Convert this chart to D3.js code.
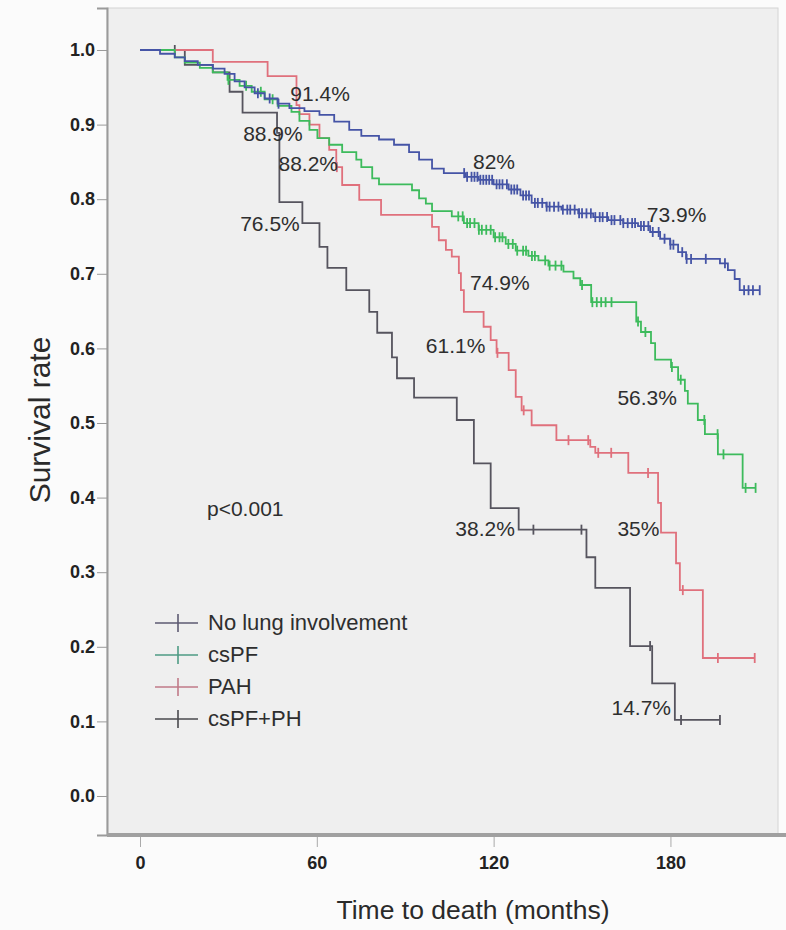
<!DOCTYPE html>
<html><head><meta charset="utf-8">
<script src="https://cdn.jsdelivr.net/npm/d3@7"></script>
<style>body{margin:0;background:#fbfbfb;}svg{display:block;}</style>
</head><body>
<svg id="chart" width="786" height="930"></svg>
<script>
// ---------------- DATA ----------------
const groupNames = ["No lung involvement", "csPF", "PAH", "csPF+PH"];
const xTickValues = [0, 60, 120, 180];
const yTickValues = [0, 0.1, 0.2, 0.3, 0.4, 0.5, 0.6, 0.7, 0.8, 0.9, 1.0];
const xTitle = "Time to death (months)";
const yTitle = "Survival rate";
const pValueText = "p<0.001";

// step drops: [time (months), survival after drop]
const noLungSteps = [[0,1.0],[6.8,0.995],[11.8,0.99],[15.2,0.985],[19.6,0.98],[24.7,0.975],[28.7,0.968],[32.1,0.958],[35.5,0.95],[38.9,0.942],[42.3,0.935],[46.7,0.928],[50.7,0.922],[55.8,0.918],[60.9,0.913],[65.9,0.904],[71.0,0.893],[75.1,0.885],[81.1,0.88],[86.2,0.873],[91.3,0.863],[94.7,0.853],[99.1,0.841],[103.1,0.835],[110.5,0.83],[114.9,0.826],[120.0,0.82],[125.1,0.813],[129.1,0.805],[132.9,0.795],[137.9,0.79],[143.0,0.786],[148.7,0.781],[153.8,0.776],[158.9,0.772],[164.0,0.768],[169.0,0.764],[173.1,0.756],[176.5,0.747],[179.9,0.739],[182.6,0.729],[185.3,0.72],[196.8,0.714],[199.5,0.705],[201.8,0.693],[203.5,0.678]];
const noLungEnd = 210.3;
const noLungCensor = [40,44,47,110,111,112.5,113.5,114.5,115.5,116.5,117.5,118.5,119.5,121,122,123,124.5,126,127,128,130,131,132,134,135,136.5,138,139,140.5,142,143.5,145,146,147.5,149,150,151.5,153,154.5,156,157,158.5,160,161,163,164,165.5,167,168,170,171,172.5,174,176,178,180,181,184,185.5,187,192,198.5,205,206.5,208,210.3];

const csPFSteps = [[0,1.0],[11.8,0.99],[15.2,0.983],[20.3,0.976],[24.7,0.97],[29.7,0.96],[33.8,0.952],[37.9,0.944],[42.3,0.934],[46.7,0.925],[51.4,0.917],[54.1,0.905],[57.5,0.893],[60.2,0.882],[64.2,0.873],[68.6,0.863],[73.4,0.853],[75.1,0.843],[78.8,0.828],[81.1,0.82],[92.3,0.812],[94.7,0.801],[97.0,0.794],[99.1,0.784],[105.8,0.777],[109.9,0.768],[114.9,0.759],[120.0,0.749],[124.1,0.74],[127.5,0.731],[131.8,0.724],[135.2,0.718],[138.6,0.711],[143.7,0.703],[147.1,0.694],[149.4,0.685],[153.1,0.662],[168.4,0.636],[170.0,0.622],[173.4,0.607],[174.8,0.585],[180.2,0.575],[182.6,0.558],[184.9,0.543],[185.9,0.526],[189.3,0.504],[191.7,0.485],[196.1,0.458],[204.5,0.413]];
const csPFEnd = 208.9;
const csPFCensor = [30,36,41,45,108,109.5,111,112,113.5,115,116,117.5,119,120.5,122,123,125,126.5,128,130,131,133,134,137.5,139,141,143,150,153.5,155,156.5,158,160,169,171.5,180.5,183.5,191.5,196,198,205.5,208.9];

const pahSteps = [[0,1.0],[24.7,0.984],[43.3,0.965],[53.1,0.926],[54.1,0.914],[57.5,0.9],[60.9,0.882],[64.2,0.866],[66.6,0.843],[68.6,0.819],[74.4,0.799],[81.8,0.779],[99.1,0.763],[101.4,0.745],[103.8,0.732],[105.8,0.723],[108.2,0.701],[108.9,0.678],[109.9,0.649],[116.6,0.629],[119.0,0.611],[121.0,0.594],[125.1,0.571],[127.5,0.535],[129.5,0.517],[132.9,0.497],[141.3,0.477],[152.8,0.468],[154.5,0.46],[165.7,0.433],[175.8,0.393],[176.8,0.353],[181.9,0.312],[183.2,0.276],[191.0,0.185]];
const pahEnd = 208.6;
const pahCensor = [66.8,121.3,130.2,145.4,152.1,155.5,159.9,172.4,184.2,196.1,208.6];

const cspfphSteps = [[0,1.0],[15.2,0.98],[24.7,0.97],[30.4,0.944],[34.8,0.916],[46.5,0.889],[47.3,0.796],[55.1,0.768],[60.9,0.736],[63.6,0.708],[70.0,0.678],[77.8,0.649],[80.5,0.621],[85.5,0.588],[87.2,0.56],[93.0,0.534],[107.5,0.504],[113.3,0.446],[119.0,0.386],[128.5,0.357],[151.5,0.32],[154.5,0.279],[166.3,0.201],[173.8,0.151],[181.5,0.102]];
const cspfphEnd = 196.8;
const cspfphCensor = [11.8,133.5,149.8,173.1,183.6,196.8];

const pctLabels = ["91.4%","88.9%","88.2%","76.5%","82%","73.9%","74.9%","61.1%","56.3%","38.2%","35%","14.7%"];
const pctLabelAt = [[51,0.931],[35,0.878],[47,0.838],[34,0.758],[113,0.84],[172,0.77],[112,0.678],[97,0.594],[162,0.524],[107,0.348],[162,0.348],[160,0.109]];

// ---------------- LAYOUT ----------------
const colors = ["#4554a6", "#3dbb5c", "#e0707c", "#56545e"];
const legendColors = ["#5d5a72", "#4e9b84", "#c07a88", "#4a4a4e"];
const svg = d3.select("#chart");
const L = 107, R = 778, T = 8, B = 835;
const x = d3.scaleLinear().domain([-11.2, 216.5]).range([L, R]);
const y = d3.scaleLinear().domain([-0.0523, 1.0563]).range([B, T]);

svg.append("rect").attr("x", L).attr("y", T).attr("width", R - L).attr("height", B - T)
  .attr("fill", "#efefef").attr("stroke", "#d4d4d4").attr("stroke-width", 1);

// axes
const yAxis = d3.axisLeft(y).tickValues(yTickValues).tickFormat(d3.format(".1f")).tickSize(10).tickPadding(2);
const gy = svg.append("g").attr("transform", `translate(${L},0)`).call(yAxis);
gy.select(".domain").attr("stroke", "#9a9a9a").attr("stroke-width", 2);
gy.selectAll(".tick line").attr("stroke", "#9a9a9a");
gy.selectAll(".tick text").attr("font-family", "Liberation Sans, Arial, sans-serif")
  .attr("font-weight", "bold").attr("font-size", 18).attr("fill", "#222");

const xAxis = d3.axisBottom(x).tickValues(xTickValues).tickSize(12).tickPadding(9);
const gx = svg.append("g").attr("transform", `translate(0,${B})`).call(xAxis);
gx.select(".domain").remove();
gx.selectAll(".tick line").attr("stroke", "#aaa");
gx.selectAll(".tick text").attr("font-family", "Liberation Sans, Arial, sans-serif")
  .attr("font-weight", "bold").attr("font-size", 18).attr("fill", "#222");
svg.append("line").attr("x1", L).attr("x2", 786).attr("y1", B).attr("y2", B)
  .attr("stroke", "#a0a0a0").attr("stroke-width", 4);

svg.append("text").attr("x", 473).attr("y", 919).attr("text-anchor", "middle")
  .attr("font-family", "Liberation Sans, Arial, sans-serif").attr("font-size", 26.5).attr("fill", "#2a2a2a").text(xTitle);
svg.append("text").attr("transform", "translate(50,420) rotate(-90)").attr("text-anchor", "middle")
  .attr("font-family", "Liberation Sans, Arial, sans-serif").attr("font-size", 30).attr("fill", "#2a2a2a").text(yTitle);

// curves
const series = [
  {steps: noLungSteps, end: noLungEnd, censor: noLungCensor},
  {steps: csPFSteps, end: csPFEnd, censor: csPFCensor},
  {steps: pahSteps, end: pahEnd, censor: pahCensor},
  {steps: cspfphSteps, end: cspfphEnd, censor: cspfphCensor}
];
const line = d3.line().x(d => x(d[0])).y(d => y(d[1])).curve(d3.curveStepAfter);
function survAt(steps, t) {
  let v = steps[0][1];
  for (const s of steps) { if (s[0] <= t) v = s[1]; }
  return v;
}
[3, 2, 1, 0].forEach(i => {
  const s = series[i];
  const pts = s.steps.concat([[s.end, s.steps[s.steps.length - 1][1]]]);
  svg.append("path").attr("d", line(pts)).attr("fill", "none")
    .attr("stroke", colors[i]).attr("stroke-width", 1.8);
  svg.append("g").selectAll("line").data(s.censor).join("line")
    .attr("x1", d => x(d)).attr("x2", d => x(d))
    .attr("y1", d => y(survAt(s.steps, d)) - 5).attr("y2", d => y(survAt(s.steps, d)) + 5)
    .attr("stroke", colors[i]).attr("stroke-width", 1.8);
});

// percent labels
svg.append("g").selectAll("text").data(pctLabels).join("text")
  .attr("x", (d, i) => x(pctLabelAt[i][0])).attr("y", (d, i) => y(pctLabelAt[i][1]))
  .attr("font-family", "Liberation Sans, Arial, sans-serif").attr("font-size", 21)
  .attr("fill", "#2e2e2e").text(d => d);

svg.append("text").attr("x", 207).attr("y", 516)
  .attr("font-family", "Liberation Sans, Arial, sans-serif").attr("font-size", 21)
  .attr("fill", "#2e2e2e").text(pValueText);

// legend
const lg = svg.append("g");
groupNames.forEach((name, i) => {
  const yy = 623 + i * 32;
  lg.append("line").attr("x1", 155).attr("x2", 198).attr("y1", yy).attr("y2", yy)
    .attr("stroke", legendColors[i]).attr("stroke-width", 1.6);
  lg.append("line").attr("x1", 178).attr("x2", 178).attr("y1", yy - 9).attr("y2", yy + 9)
    .attr("stroke", legendColors[i]).attr("stroke-width", 1.6);
  lg.append("text").attr("x", 208).attr("y", yy + 7)
    .attr("font-family", "Liberation Sans, Arial, sans-serif").attr("font-size", 22)
    .attr("fill", "#2e2e2e").text(name);
});
</script>
</body></html>
